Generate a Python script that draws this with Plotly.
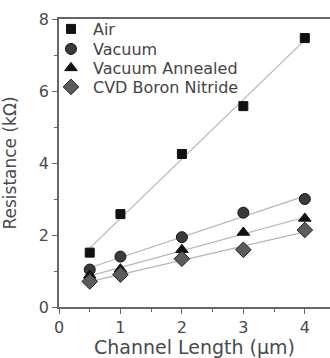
import numpy as np
import plotly.graph_objects as go

length = [0.5, 1, 2, 3, 4]
air = [1.51, 2.58, 4.25, 5.58, 7.47]
vacuum = [1.04, 1.40, 1.94, 2.62, 3.00]
vacuum_annealed = [0.88, 1.05, 1.59, 2.07, 2.46]
cvd_bn = [0.71, 0.90, 1.34, 1.59, 2.14]

series = [
    ("Air", air, "square", 9, "#111111", "#111111"),
    ("Vacuum", vacuum, "circle", 11, "#3a3a3a", "#111111"),
    ("Vacuum Annealed", vacuum_annealed, "triangle-up", 11, "#111111", "#111111"),
    ("CVD Boron Nitride", cvd_bn, "diamond", 12, "#5c5c5c", "#222222"),
]

FONT = "DejaVu Sans, Verdana, sans-serif"
fig = go.Figure()
x = np.array(length)
for name, ys, sym, size, fill, edge in series:
    k, b = np.polyfit(x, np.array(ys), 1)
    xf = [x.min(), x.max()]
    fig.add_trace(go.Scatter(x=xf, y=[k * v + b for v in xf], mode="lines",
                             line=dict(color="#b5b5b5", width=1.2),
                             showlegend=False, hoverinfo="skip"))
legend_names = ["legend", "legend2", "legend3", "legend4"]
# row centres at 29, 49, 68, 87 px from the top; plot spans 19..307
legend_y = [(307 - r) / 288 for r in (29, 49, 68, 87)]
for (name, ys, sym, size, fill, edge), lg in zip(series, legend_names):
    fig.add_trace(go.Scatter(x=length, y=ys, mode="markers", name=name, legend=lg,
                             marker=dict(symbol=sym, size=size, color=fill,
                                         line=dict(color=edge, width=1))))

legend_style = dict(x=-0.037, xanchor="left", yanchor="middle", bgcolor="rgba(0,0,0,0)",
                    font=dict(family=FONT, size=16, color="#444444"), itemwidth=34)
legends = {lg: dict(legend_style, y=ly) for lg, ly in zip(legend_names, legend_y)}

axis_color = "#666666"
fig.update_layout(
    width=330, height=358,
    margin=dict(l=59, r=0, t=19, b=51, autoexpand=False),
    paper_bgcolor="white", plot_bgcolor="white",
    font=dict(family=FONT, color="#4a4a4a"),
    **legends,
    xaxis=dict(range=[0, 4.41], showgrid=False, zeroline=False, automargin=False,
               showline=True, linecolor=axis_color, linewidth=1.5, mirror=True,
               ticks="outside", ticklen=5, tickcolor=axis_color, tickwidth=1,
               tickvals=[0, 1, 2, 3, 4], tickfont=dict(size=16),
               minor=dict(tickvals=[0.5, 1.5, 2.5, 3.5], ticks="outside", ticklen=3,
                          tickcolor=axis_color),
               title=dict(text="Channel Length (μm)", font=dict(size=19), standoff=5)),
    yaxis=dict(range=[0, 8], showgrid=False, zeroline=False, automargin=False,
               showline=True, linecolor=axis_color, linewidth=1.5,
               ticks="outside", ticklen=5, tickcolor=axis_color, tickwidth=1,
               tickvals=[0, 2, 4, 6, 8], tickfont=dict(size=16),
               minor=dict(tickvals=[1, 3, 5, 7], ticks="outside", ticklen=3,
                          tickcolor=axis_color),
               title=dict(text="Resistance (kΩ)", font=dict(size=17), standoff=18)),
)

fig.write_html("out.html", config={"displayModeBar": False},
               post_script="document.body.style.margin='0';document.body.style.overflow='hidden';")
